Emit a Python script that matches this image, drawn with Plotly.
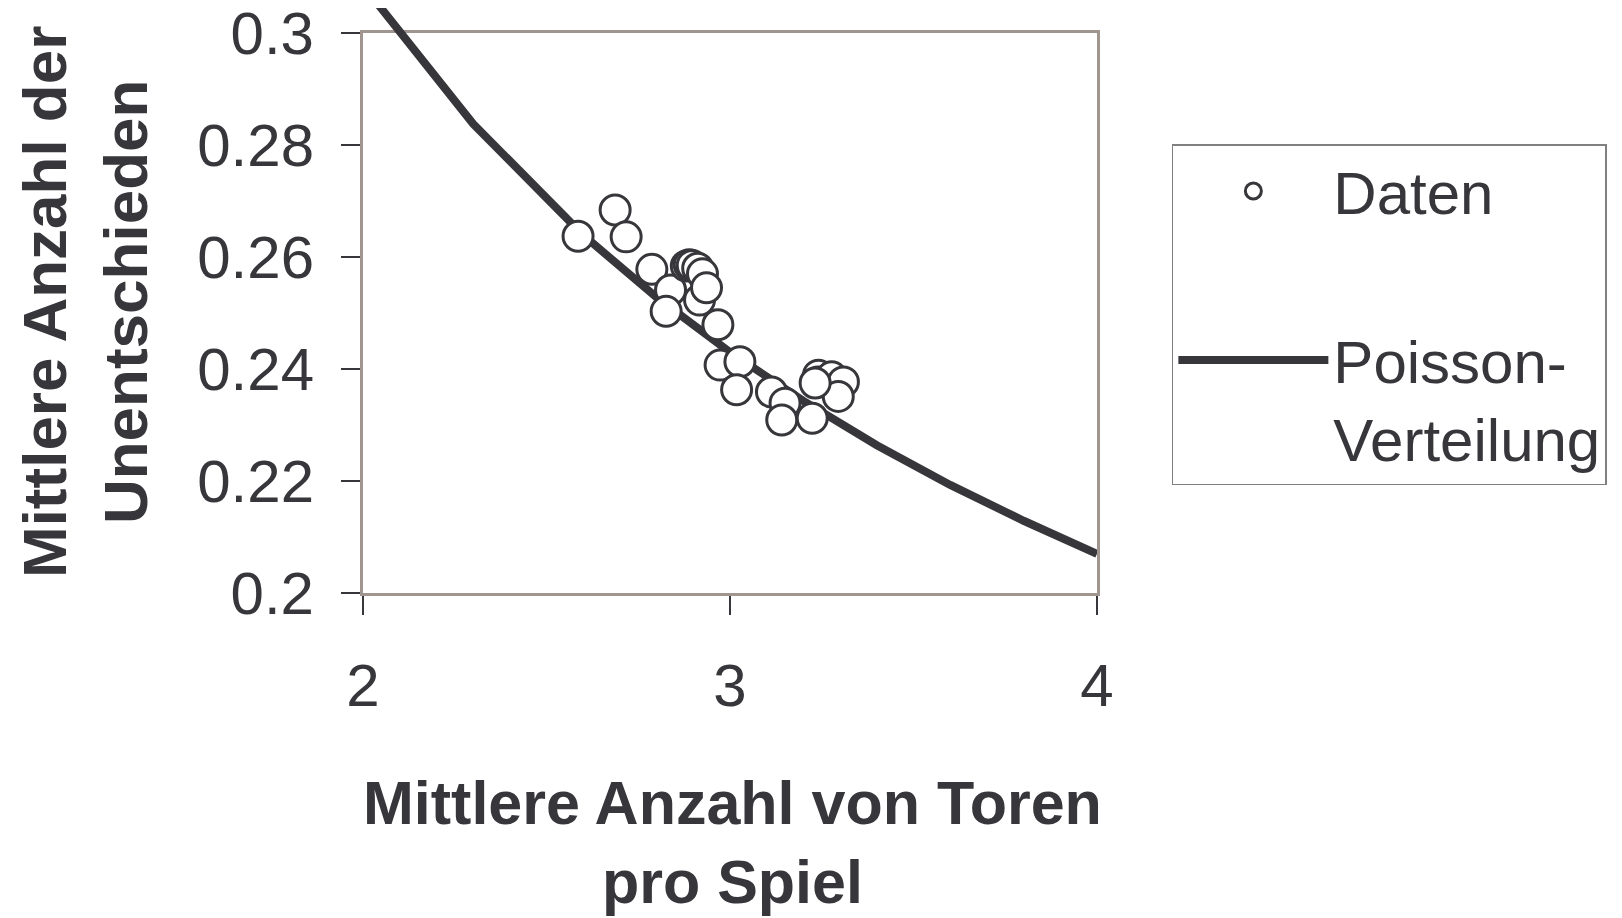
import plotly.graph_objects as go

# Data points
data_x = [2.586, 2.687, 2.717, 2.787, 2.838, 2.826, 2.881, 2.889, 2.897, 2.912,
          2.925, 2.917, 2.936, 2.967, 2.973, 3.027, 3.018, 3.113, 3.150, 3.141,
          3.224, 3.241, 3.240, 3.277, 3.309, 3.295, 3.232]
data_y = [0.2637, 0.2684, 0.2636, 0.2578, 0.2541, 0.2503, 0.2584, 0.2586, 0.2585, 0.2580,
          0.2570, 0.2523, 0.2545, 0.2479, 0.2407, 0.2413, 0.2363, 0.2359, 0.2339, 0.2309,
          0.2312, 0.2389, 0.2377, 0.2386, 0.2377, 0.2351, 0.2375]

# Poisson curve
poisson_x = [2.0, 2.3, 2.6, 2.8, 3.0, 3.2, 3.4, 3.5, 3.6, 3.8, 4.0]
poisson_y = [0.3085, 0.2838, 0.2639, 0.2528, 0.2430, 0.2343, 0.2264, 0.2228, 0.2193, 0.2129, 0.2070]

y_ticks = [0.2, 0.22, 0.24, 0.26, 0.28, 0.3]
y_ticktext = ["0.2", "0.22", "0.24", "0.26", "0.28", "0.3"]
x_ticks = [2, 3, 4]
x_ticktext = ["2", "3", "4"]

TXT = "#36363b"
FONT = "Liberation Sans, Arial, sans-serif"

# layout geometry (pixels)
W, H = 1622, 918
ML, MR, MB = 355, 533, 333
AREA_H = H - MB            # plotting region height (top margin 0)
FRAME_H = 560              # height of the framed axes box
frame_top = FRAME_H / AREA_H
y_lo, y_hi = 0.2, 0.3
y2_hi = y_lo + (y_hi - y_lo) * AREA_H / FRAME_H

fig = go.Figure()
# invisible trace so that the framed x/y subplot (axes, ticks, frame) is drawn
fig.add_trace(go.Scatter(
    x=data_x, y=data_y, mode="markers", showlegend=False, hoverinfo="skip",
    marker=dict(opacity=0), xaxis="x", yaxis="y",
))
fig.add_trace(go.Scatter(
    x=poisson_x, y=poisson_y, mode="lines", name="Poisson-<br>Verteilung",
    line=dict(color="#36363b", width=8), legendgroup="b", legendrank=2,
    xaxis="x", yaxis="y2",
))
fig.add_trace(go.Scatter(
    x=data_x, y=data_y, mode="markers", name="Daten",
    marker=dict(symbol="circle", size=30, color="white",
                line=dict(color="#36363b", width=3)),
    legendgroup="a", legendrank=1,
    xaxis="x", yaxis="y2",
))

fig.update_layout(
    width=W, height=H,
    margin=dict(l=ML, r=MR, t=0, b=MB, autoexpand=False),
    paper_bgcolor="white", plot_bgcolor="rgba(0,0,0,0)",
    font=dict(family=FONT, color=TXT, size=60),
    showlegend=True,
    legend=dict(
        x=1.102, y=(AREA_H - 136) / AREA_H, xanchor="left", yanchor="top",
        bordercolor="#808080", borderwidth=1.5, bgcolor="white",
        font=dict(size=60, family=FONT, color=TXT),
        itemwidth=150, valign="top", tracegroupgap=88,
        traceorder="grouped",
    ),
    xaxis=dict(
        range=[2, 4], tickvals=x_ticks, ticktext=x_ticktext, anchor="y",
        showgrid=False, zeroline=False,
        showline=True, mirror=True, linecolor="#a0958f", linewidth=3,
        ticks="outside", ticklen=19, tickwidth=1.5, tickcolor="#36363b",
        ticklabelstandoff=19, ticklabeloverflow="allow",
        tickfont=dict(size=60, family=FONT, color=TXT),
    ),
    yaxis=dict(
        range=[y_lo, y_hi], domain=[0, frame_top], anchor="x",
        tickvals=y_ticks, ticktext=y_ticktext,
        showgrid=False, zeroline=False,
        showline=True, mirror=True, linecolor="#a0958f", linewidth=3,
        ticks="outside", ticklen=19, tickwidth=1.5, tickcolor="#36363b",
        ticklabelstandoff=15, ticklabeloverflow="allow",
        tickfont=dict(size=60, family=FONT, color=TXT),
    ),
    yaxis2=dict(
        range=[y_lo, y2_hi], domain=[0, 1], anchor="x",
        visible=False, showgrid=False, zeroline=False,
    ),
    annotations=[
        dict(text="<b>Mittlere Anzahl der<br>Unentschieden</b>",
             xref="paper", yref="paper",
             x=(77 - ML) / (W - ML - MR), y=(AREA_H - 294) / AREA_H,
             xanchor="center", yanchor="middle", textangle=-90, showarrow=False,
             font=dict(size=62, family=FONT, color=TXT)),
        dict(text="<b>Mittlere Anzahl von Toren<br>pro Spiel</b>",
             xref="paper", yref="paper",
             x=(724 - ML) / (W - ML - MR), y=(AREA_H - 834) / AREA_H,
             xanchor="center", yanchor="middle", showarrow=False,
             font=dict(size=61, family=FONT, color=TXT)),
    ],
)

fig.write_html("out.html")
